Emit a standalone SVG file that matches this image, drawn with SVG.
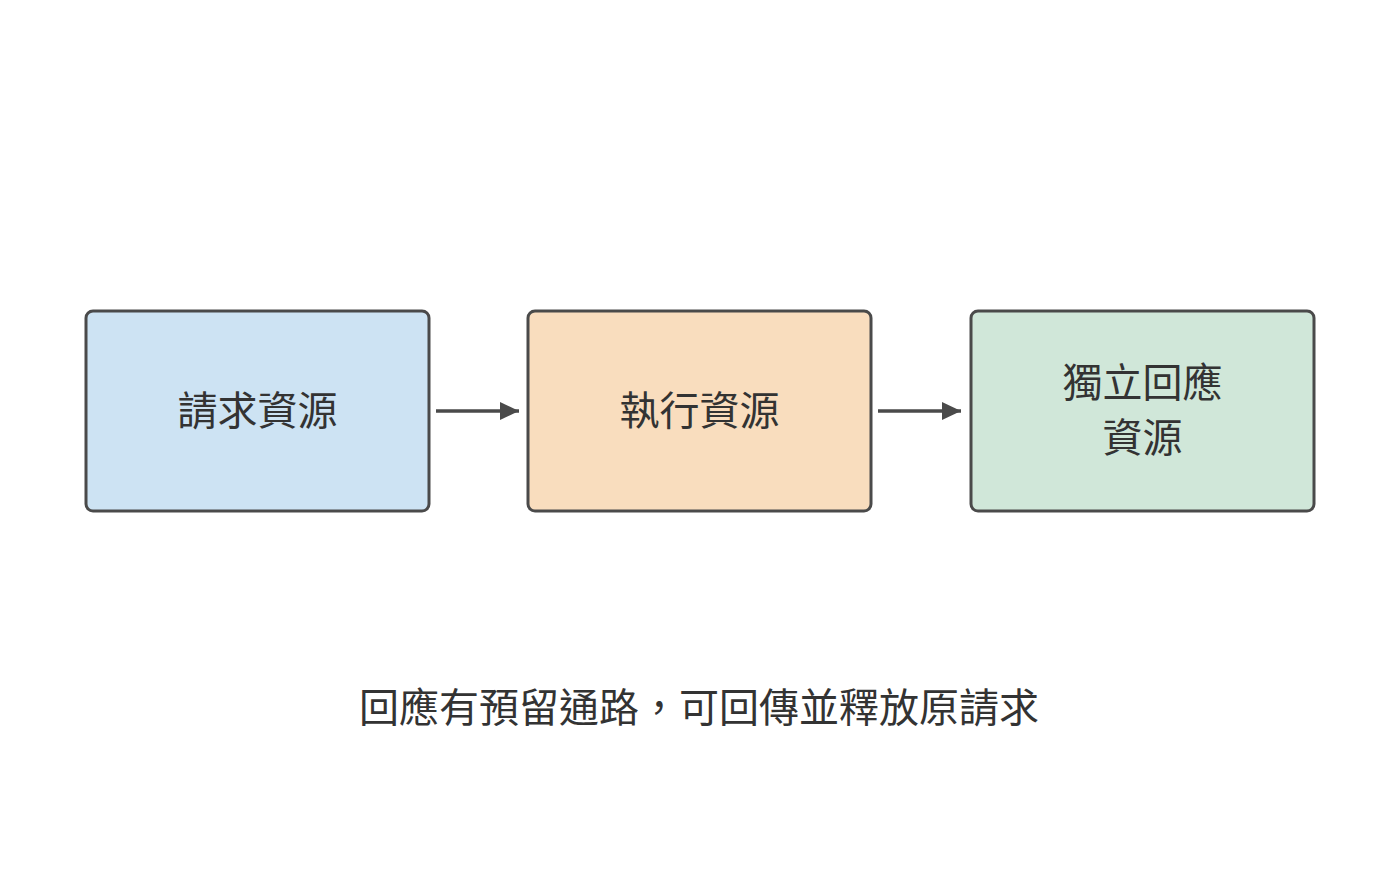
<svg xmlns="http://www.w3.org/2000/svg" width="1400" height="888" viewBox="0 0 1400 888">
<style>
.box{stroke:#4a4a4a;stroke-width:3}
.t{font-family:"Noto Sans CJK TC","Noto Sans CJK SC",sans-serif;font-size:40px;fill:#333;text-anchor:middle;dominant-baseline:central}
.c{stroke:#4a4a4a;stroke-width:3.5;fill:none}
</style>
<defs>
<marker id="ah" markerWidth="20" markerHeight="20" refX="19" refY="10" orient="auto" markerUnits="userSpaceOnUse">
<path d="M0,1 L19,10 L0,19 Z" fill="#4a4a4a"/>
</marker>
</defs>
<rect width="1400" height="888" fill="#fff"/>
<g id="n1">
<rect class="box" x="86" y="311" width="343" height="200" rx="7" fill="#cde3f3"/>
<text class="t" x="257.5" y="408">請求資源</text>
</g>
<g id="n2">
<rect class="box" x="528" y="311" width="343" height="200" rx="7" fill="#f9ddbe"/>
<text class="t" x="699.5" y="408">執行資源</text>
</g>
<g id="n3">
<rect class="box" x="971" y="311" width="343" height="200" rx="7" fill="#d0e7d9"/>
<text class="t" x="1142.5" y="380">獨立回應</text>
<text class="t" x="1142.5" y="435">資源</text>
</g>
<g id="connectors">
<line class="c" x1="436" y1="411" x2="519" y2="411" marker-end="url(#ah)"/>
<line class="c" x1="878" y1="411" x2="961" y2="411" marker-end="url(#ah)"/>
</g>
<g id="caption">
<text class="t" x="699" y="705">回應有預留通路，可回傳並釋放原請求</text>
</g>
</svg>
